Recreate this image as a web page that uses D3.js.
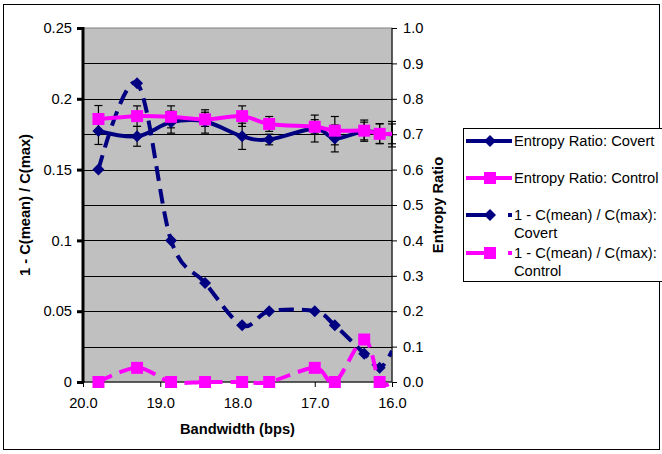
<!DOCTYPE html>
<html>
<head>
<meta charset="utf-8">
<script src="https://cdn.jsdelivr.net/npm/d3@7"></script>
<style>
  body { margin: 0; background: #fff; }
  text { font-family: "Liberation Sans", Arial, sans-serif; }
</style>
</head>
<body>
<div id="chart"></div>
<script>
// Chart data
const bandwidth = [19.8, 19.3, 18.86, 18.42, 17.94, 17.59, 17.0, 16.74, 16.36, 16.16, 16.0];
const entropyCovert = [0.709, 0.694, 0.734, 0.736, 0.694, 0.685, 0.716, 0.688, 0.709, 0.702, 0.700];
const entropyCovertErr = [0.038, 0.028, 0.031, 0.033, 0.037, 0.015, 0.038, 0.038, 0.025, 0.028, 0.036];
const entropyControl = [0.743, 0.751, 0.749, 0.742, 0.751, 0.729, 0.721, 0.710, 0.710, 0.701, 0.701];
const entropyControlErr = [0.038, 0.029, 0.031, 0.020, 0.029, 0.021, 0.020, 0.040, 0.030, 0.028, 0.028];
const capCovert = [0.150, 0.211, 0.100, 0.070, 0.040, 0.050, 0.050, 0.040, 0.020, 0.010, 0.022];
const capControl = [0, 0.01, 0, 0, 0, 0, 0.01, 0, 0.03, 0, 0];

const xTicks = [20, 19, 18, 17, 16];
const leftTicks = [0, 0.05, 0.1, 0.15, 0.2, 0.25];
const leftTickLabels = ['0', '0.05', '0.1', '0.15', '0.2', '0.25'];
const rightTicks = [0, 0.1, 0.2, 0.3, 0.4, 0.5, 0.6, 0.7, 0.8, 0.9, 1.0];
const legendLabels = [
  ['Entropy Ratio: Covert'],
  ['Entropy Ratio: Control'],
  ['1 - C(mean) / C(max):', 'Covert'],
  ['1 - C(mean) / C(max):', 'Control']
];

const width = 662;
const height = 454;
const plot = { left: 83, right: 392, top: 28, bottom: 382 };
const navy = '#000080';
const pink = '#FF00FF';
const fontSize = '14.7px';

const svg = d3.select('#chart').append('svg')
  .attr('width', width)
  .attr('height', height);

// Outer chart border
svg.append('rect')
  .attr('x', 3.5).attr('y', 4.5)
  .attr('width', 656).attr('height', 445)
  .attr('fill', '#fff').attr('stroke', '#000').attr('stroke-width', 1);

const x = d3.scaleLinear().domain([20, 16]).range([plot.left, plot.right]);
const yLeft = d3.scaleLinear().domain([0, 0.25]).range([plot.bottom, plot.top]);
const yRight = d3.scaleLinear().domain([0, 1]).range([plot.bottom, plot.top]);

// Plot area
svg.append('rect')
  .attr('x', plot.left).attr('y', plot.top)
  .attr('width', plot.right - plot.left).attr('height', plot.bottom - plot.top)
  .attr('fill', '#C0C0C0').attr('stroke', '#808080').attr('stroke-width', 1);

// Gridlines on the right axis steps
svg.append('g')
  .selectAll('line')
  .data(rightTicks.slice(1, -1))
  .join('line')
  .attr('x1', plot.left).attr('x2', plot.right)
  .attr('y1', d => Math.round(yRight(d)) + 0.5)
  .attr('y2', d => Math.round(yRight(d)) + 0.5)
  .attr('stroke', '#000').attr('stroke-width', 1);

// Axes
const xAxis = svg.append('g')
  .attr('transform', `translate(0,${plot.bottom})`)
  .call(d3.axisBottom(x).tickValues(xTicks).tickFormat(d3.format('.1f')).tickSize(5).tickPadding(11));

const leftAxis = svg.append('g')
  .attr('transform', `translate(${plot.left},0)`)
  .call(d3.axisLeft(yLeft).tickValues(leftTicks).tickFormat((d, i) => leftTickLabels[i]).tickSize(6).tickPadding(5));

const rightAxis = svg.append('g')
  .attr('transform', `translate(${plot.right},0)`)
  .call(d3.axisRight(yRight).tickValues(rightTicks).tickFormat(d3.format('.1f')).tickSize(5).tickPadding(6));

[xAxis, leftAxis, rightAxis].forEach(g => {
  g.selectAll('text').attr('font-size', fontSize).attr('fill', '#000')
    .attr('font-family', '"Liberation Sans", Arial, sans-serif');
  g.selectAll('line').attr('stroke', '#000');
  g.select('.domain').attr('stroke', '#000');
});
leftAxis.select('.domain').attr('stroke-width', 3).attr('d', `M0,${plot.bottom + 1}V${plot.top - 1}`);
leftAxis.selectAll('.tick line').attr('stroke-width', 3);
rightAxis.select('.domain').attr('d', `M0,${plot.bottom}V${plot.top}`);
xAxis.select('.domain').attr('d', `M${plot.left},0H${plot.right}`);

// Axis titles
svg.append('text')
  .attr('transform', `translate(30,${(plot.top + plot.bottom) / 2}) rotate(-90)`)
  .attr('text-anchor', 'middle')
  .attr('font-size', fontSize).attr('font-weight', 'bold')
  .text('1 - C(mean) / C(max)');

svg.append('text')
  .attr('transform', `translate(443,${(plot.top + plot.bottom) / 2}) rotate(-90)`)
  .attr('text-anchor', 'middle')
  .attr('font-size', fontSize).attr('font-weight', 'bold')
  .text('Entropy Ratio');

svg.append('text')
  .attr('x', (plot.left + plot.right) / 2)
  .attr('y', 434)
  .attr('text-anchor', 'middle')
  .attr('font-size', fontSize).attr('font-weight', 'bold')
  .text('Bandwidth (bps)');

// Clip the series at the plot's right edge
svg.append('clipPath').attr('id', 'plotClip')
  .append('rect')
  .attr('x', 0).attr('y', 0)
  .attr('width', plot.right).attr('height', height);

const smooth = d3.line().curve(d3.curveCardinal.tension(0));

function diamond(r) {
  return `M0,${-r}L${r},0L0,${r}L${-r},0Z`;
}
function square(s) {
  return `M${-s / 2},${-s / 2}h${s}v${s}h${-s}Z`;
}

const seriesList = [
  { values: capCovert, y: yLeft, color: navy, dash: '15,8', marker: diamond(6) },
  { values: capControl, y: yLeft, color: pink, dash: '15,8', marker: square(12) },
  { values: entropyCovert, err: entropyCovertErr, y: yRight, color: navy, dash: null, marker: diamond(6) },
  { values: entropyControl, err: entropyControlErr, y: yRight, color: pink, dash: null, marker: square(12) }
];

// Error bars first, then lines and markers on top
seriesList.filter(s => s.err).forEach(s => {
  const g = svg.append('g').attr('stroke', '#000').attr('stroke-width', 1.2);
  bandwidth.forEach((b, i) => {
    const cx = x(b);
    const top = s.y(s.values[i] + s.err[i]);
    const bot = s.y(s.values[i] - s.err[i]);
    g.append('line').attr('x1', cx).attr('x2', cx).attr('y1', top).attr('y2', bot);
    g.append('line').attr('x1', cx - 4).attr('x2', cx + 4).attr('y1', top).attr('y2', top);
    g.append('line').attr('x1', cx - 4).attr('x2', cx + 4).attr('y1', bot).attr('y2', bot);
  });
});

seriesList.forEach(s => {
  const pts = bandwidth.map((b, i) => [x(b), s.y(s.values[i])]);
  const g = svg.append('g').attr('clip-path', 'url(#plotClip)');
  g.append('path')
    .attr('d', smooth(pts))
    .attr('fill', 'none')
    .attr('stroke', s.color)
    .attr('stroke-width', 4)
    .attr('stroke-dasharray', s.dash)
    .attr('stroke-linejoin', 'round');
  g.selectAll('path.marker')
    .data(pts.filter((p, i) => bandwidth[i] > 16))
    .join('path')
    .attr('class', 'marker')
    .attr('transform', p => `translate(${p[0]},${p[1]})`)
    .attr('d', s.marker)
    .attr('fill', s.color);
});

// Legend
const legend = svg.append('g');
legend.append('rect')
  .attr('x', 463.5).attr('y', 128.5)
  .attr('width', 200).attr('height', 153)
  .attr('fill', '#fff').attr('stroke', '#000').attr('stroke-width', 1);

const legendRows = [141, 178, 215, 253];
const legendSeries = [seriesList[2], seriesList[3], seriesList[0], seriesList[1]];
legendSeries.forEach((s, i) => {
  const ly = legendRows[i];
  legend.append('line')
    .attr('x1', 466).attr('x2', 512)
    .attr('y1', ly).attr('y2', ly)
    .attr('stroke', s.color)
    .attr('stroke-width', 4)
    .attr('stroke-dasharray', s.dash ? '22,20' : null);
  legend.append('path')
    .attr('transform', `translate(490,${ly})`)
    .attr('d', s.marker)
    .attr('fill', s.color);
  legendLabels[i].forEach((t, k) => {
    legend.append('text')
      .attr('x', 514)
      .attr('y', ly + 5 + k * 18)
      .attr('font-size', fontSize)
      .text(t);
  });
});
</script>
</body>
</html>
